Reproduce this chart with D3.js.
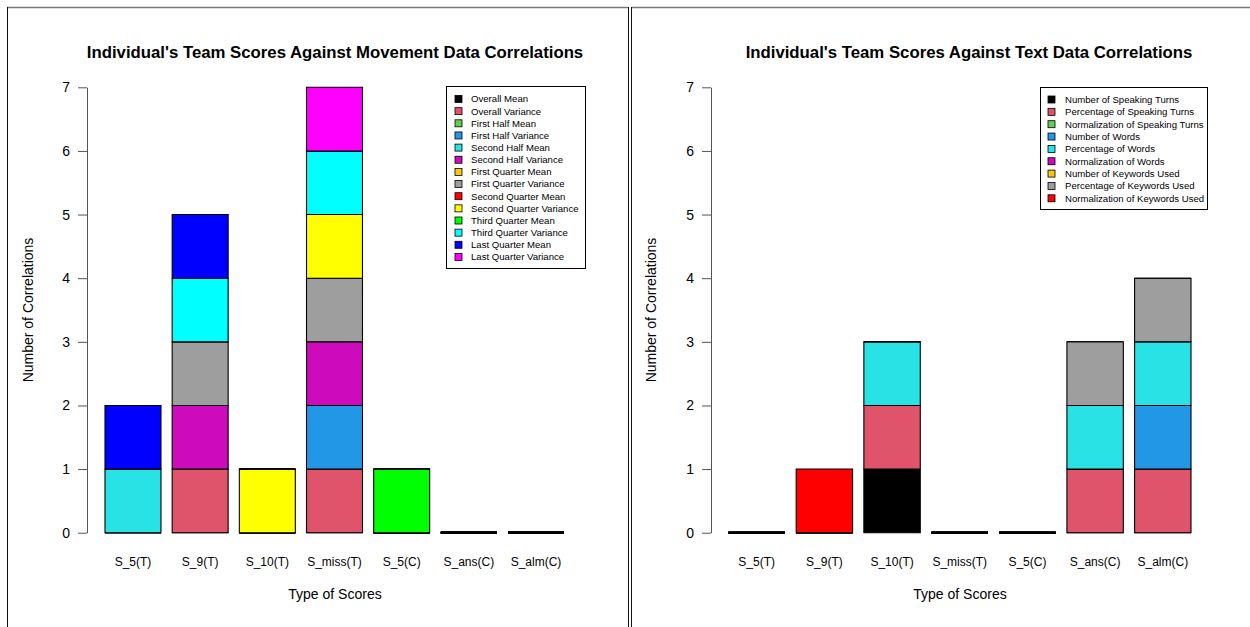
<!DOCTYPE html>
<html><head><meta charset="utf-8">
<script src="https://cdn.jsdelivr.net/npm/d3@7"></script>
<style>
body{margin:0;background:#fff}
svg{display:block}
text{font-family:"Liberation Sans",Arial,Helvetica,sans-serif;fill:#000}
</style>
</head><body>
<svg id="chart" width="1250" height="627"></svg>
<script>
// ---------------- DATA ----------------
const categories = ["S_5(T)","S_9(T)","S_10(T)","S_miss(T)","S_5(C)","S_ans(C)","S_alm(C)"];
const yTicks = [0,1,2,3,4,5,6,7];

const movementSeries = ["Overall Mean","Overall Variance","First Half Mean","First Half Variance",
  "Second Half Mean","Second Half Variance","First Quarter Mean","First Quarter Variance",
  "Second Quarter Mean","Second Quarter Variance","Third Quarter Mean","Third Quarter Variance",
  "Last Quarter Mean","Last Quarter Variance"];
const movementColors = ["#000000","#DF536B","#61D04F","#2297E6","#28E2E5","#CD0BBC","#F5C710",
  "#9E9E9E","#FF0000","#FFFF00","#00FF00","#00FFFF","#0000FF","#FF00FF"];
// one row per series, one column per category
const movementValues = [
  [0,0,0,0,0,0,0],
  [0,1,0,1,0,0,0],
  [0,0,0,0,0,0,0],
  [0,0,0,1,0,0,0],
  [1,0,0,0,0,0,0],
  [0,1,0,1,0,0,0],
  [0,0,0,0,0,0,0],
  [0,1,0,1,0,0,0],
  [0,0,0,0,0,0,0],
  [0,0,1,1,0,0,0],
  [0,0,0,0,1,0,0],
  [0,1,0,1,0,0,0],
  [1,1,0,0,0,0,0],
  [0,0,0,1,0,0,0]
];

const textSeries = ["Number of Speaking Turns","Percentage of Speaking Turns","Normalization of Speaking Turns",
  "Number of Words","Percentage of Words","Normalization of Words",
  "Number of Keywords Used","Percentage of Keywords Used","Normalization of Keywords Used"];
const textColors = ["#000000","#DF536B","#61D04F","#2297E6","#28E2E5","#CD0BBC","#F5C710","#9E9E9E","#FF0000"];
const textValues = [
  [0,0,1,0,0,0,0],
  [0,0,1,0,0,1,1],
  [0,0,0,0,0,0,0],
  [0,0,0,0,0,0,1],
  [0,0,1,0,0,1,1],
  [0,0,0,0,0,0,0],
  [0,0,0,0,0,0,0],
  [0,0,0,0,0,1,1],
  [0,1,0,0,0,0,0]
];

const titles = ["Individual's Team Scores Against Movement Data Correlations",
                "Individual's Team Scores Against Text Data Correlations"];
const xAxisTitle = "Type of Scores";
const yAxisTitle = "Number of Correlations";

// ---------------- LAYOUT ----------------
const svg = d3.select("#chart");

// panel frames
const frame = svg.append("g").attr("fill","none");
frame.append("line").attr("x1",7).attr("x2",628.5).attr("y1",7.5).attr("y2",7.5).attr("stroke","#777").attr("stroke-width",1.5);
frame.append("line").attr("x1",7.5).attr("x2",7.5).attr("y1",7).attr("y2",627).attr("stroke","#111");
frame.append("line").attr("x1",628.5).attr("x2",628.5).attr("y1",7).attr("y2",627).attr("stroke","#111");
frame.append("line").attr("x1",631).attr("x2",1250).attr("y1",7.5).attr("y2",7.5).attr("stroke","#777").attr("stroke-width",1.5);
frame.append("line").attr("x1",631.5).attr("x2",631.5).attr("y1",7).attr("y2",627).attr("stroke","#111");

const panels = [
  {series: movementSeries, colors: movementColors, values: movementValues, title: titles[0],
   axisX: 87, barL: 105, barR: 564, titleX: 335, xLabX: 335, yLabX: 33,
   leg: {x: 446, y: 86, w: 139, h: 182, sqX: 455, txX: 471, y0: 99, dy: 12.15}},
  {series: textSeries, colors: textColors, values: textValues, title: titles[1],
   axisX: 711, barL: 728.5, barR: 1191, titleX: 969, xLabX: 960, yLabX: 656,
   leg: {x: 1040, y: 87, w: 167, h: 122, sqX: 1048, txX: 1065, y0: 99.5, dy: 12.35}}
];

const y = d3.scaleLinear().domain([0, 7]).range([532.7, 87.3]);

panels.forEach(p => {
  const g = svg.append("g");
  const x = d3.scaleBand().domain(categories).range([p.barL, p.barR])
    .paddingInner(1/6).paddingOuter(0);

  // stacked data
  const keys = p.series.map((s, i) => i);
  const rows = categories.map((c, j) => {
    const o = {cat: c};
    keys.forEach(k => o[k] = p.values[k][j]);
    return o;
  });
  const totals = categories.map((c, j) => d3.sum(p.values, r => r[j]));
  const stacked = d3.stack().keys(keys)(rows);

  // bars (every segment, including zero-height ones, like R's barplot)
  stacked.forEach((layer, k) => {
    g.append("g").selectAll("path").data(layer).join("path")
      .attr("d", d => {
        const x0 = x(d.data.cat), w = x.bandwidth();
        const yTop = y(d[1]), yBot = y(d[0]);
        return `M${x0},${yBot}H${x0 + w}V${yTop}H${x0}Z`;
      })
      .attr("fill", p.colors[k])
      .attr("stroke", "#000")
      .attr("stroke-width", (d, j) => totals[j] === 0 ? 1.8 : 1.1);
  });

  // y axis
  const ax = g.append("g").attr("transform", `translate(${p.axisX},0)`)
    .call(d3.axisLeft(y).tickValues(yTicks).tickFormat(d3.format("d"))
      .tickSize(9).tickSizeOuter(0).tickPadding(8));
  ax.select(".domain").attr("stroke", "#555");
  ax.selectAll(".tick line").attr("stroke", "#555");
  ax.selectAll(".tick text").attr("font-size", 14)
    .attr("font-family", '"Liberation Sans",Arial,sans-serif').attr("fill", "#000");

  // category labels
  g.append("g").selectAll("text").data(categories).join("text")
    .attr("x", d => x(d) + x.bandwidth() / 2)
    .attr("y", 565.5)
    .attr("text-anchor", "middle")
    .attr("font-size", 12)
    .text(d => d);

  // titles
  g.append("text").attr("x", p.titleX).attr("y", 57.5)
    .attr("text-anchor", "middle").attr("font-size", 16.75).attr("font-weight", "bold")
    .text(p.title);
  g.append("text").attr("x", p.xLabX).attr("y", 599)
    .attr("text-anchor", "middle").attr("font-size", 14).text(xAxisTitle);
  g.append("text").attr("transform", `translate(${p.yLabX},310) rotate(-90)`)
    .attr("text-anchor", "middle").attr("font-size", 14).text(yAxisTitle);

  // legend
  const L = p.leg;
  const lg = g.append("g");
  lg.append("rect").attr("x", L.x + 0.5).attr("y", L.y + 0.5).attr("width", L.w).attr("height", L.h)
    .attr("fill", "#fff").attr("stroke", "#000");
  const items = lg.selectAll("g.item").data(p.series).join("g").attr("class", "item")
    .attr("transform", (d, i) => `translate(0,${L.y0 + i * L.dy})`);
  items.append("rect").attr("x", L.sqX).attr("y", -3.5).attr("width", 7).attr("height", 7)
    .attr("fill", (d, i) => p.colors[i]).attr("stroke", "#000").attr("stroke-width", 0.8);
  items.append("text").attr("x", L.txX).attr("y", 3.4).attr("font-size", 9.6).text(d => d);
});
</script>
</body></html>
